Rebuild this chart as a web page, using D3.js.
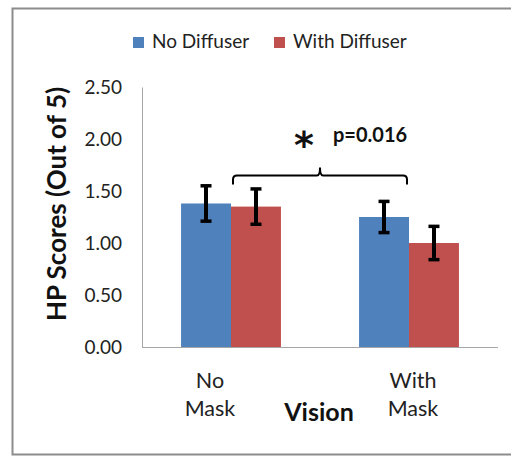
<!DOCTYPE html>
<html>
<head>
<meta charset="utf-8">
<script src="https://cdn.jsdelivr.net/npm/d3@7"></script>
<style>
  html, body { margin: 0; padding: 0; background: #fff; }
  svg { display: block; font-family: Lato, "Open Sans", sans-serif; }
</style>
</head>
<body>
<svg id="chart" width="511" height="456"></svg>
<script>
// Categories and series
const categories = ["No Mask", "With Mask"];
const categoryLines = [["No", "Mask"], ["With", "Mask"]];
const seriesNames = ["No Diffuser", "With Diffuser"];
const noDiffuser = [1.38, 1.25];
const withDiffuser = [1.35, 1.00];
const noDiffuserErr = [0.17, 0.15];
const withDiffuserErr = [0.17, 0.16];
const yTicks = [0, 0.5, 1.0, 1.5, 2.0, 2.5];
const pLabel = "p=0.016";

const colors = { "No Diffuser": "#4F81BD", "With Diffuser": "#C0504D" };

const svg = d3.select("#chart");

// Outer chart-area frame
svg.append("rect")
  .attr("x", 12.5).attr("y", 8.5)
  .attr("width", 510).attr("height", 446)
  .attr("fill", "#fff")
  .attr("stroke", "#8c8c8c").attr("stroke-width", 2);

const plot = { left: 142, right: 498, top: 87, bottom: 347 };

const x0 = d3.scaleBand().domain(categories)
  .range([plot.left, plot.right]).paddingInner(0.4388).paddingOuter(0.2194);
const x1 = d3.scaleBand().domain(seriesNames).range([0, x0.bandwidth()]);
const y = d3.scaleLinear().domain([0, 2.5]).range([plot.bottom, plot.top]);

const rows = categories.map((c, i) => ({
  category: c,
  values: [
    { series: "No Diffuser", value: noDiffuser[i], err: noDiffuserErr[i] },
    { series: "With Diffuser", value: withDiffuser[i], err: withDiffuserErr[i] }
  ]
}));

// Y axis
const yAxis = svg.append("g")
  .attr("transform", `translate(${plot.left},0)`)
  .call(d3.axisLeft(y).tickValues(yTicks).tickFormat(d3.format(".2f")).tickSize(0).tickPadding(20));
yAxis.select(".domain").attr("stroke", "#a6a6a6").attr("stroke-width", 1);
yAxis.selectAll("text").attr("font-size", 19).attr("fill", "#222")
  .attr("font-family", "Lato, sans-serif");

// Baseline (x axis line)
svg.append("line")
  .attr("x1", plot.left).attr("x2", plot.right)
  .attr("y1", y(0) + 0.5).attr("y2", y(0) + 0.5)
  .attr("stroke", "#a6a6a6").attr("stroke-width", 1);

// Bars
const groups = svg.selectAll("g.cat").data(rows).join("g")
  .attr("class", "cat")
  .attr("transform", d => `translate(${x0(d.category)},0)`);

groups.selectAll("rect").data(d => d.values).join("rect")
  .attr("x", d => x1(d.series))
  .attr("y", d => y(d.value))
  .attr("width", x1.bandwidth())
  .attr("height", d => y(0) - y(d.value))
  .attr("fill", d => colors[d.series]);

// Error bars
const eb = groups.selectAll("g.err").data(d => d.values).join("g")
  .attr("class", "err")
  .attr("transform", d => `translate(${x1(d.series) + x1.bandwidth() / 2},0)`);
eb.append("line")
  .attr("y1", d => y(d.value + d.err)).attr("y2", d => y(d.value - d.err))
  .attr("stroke", "#000").attr("stroke-width", 4);
eb.append("line")
  .attr("x1", -5.5).attr("x2", 5.5)
  .attr("y1", d => y(d.value + d.err)).attr("y2", d => y(d.value + d.err))
  .attr("stroke", "#000").attr("stroke-width", 3.5);
eb.append("line")
  .attr("x1", -5.5).attr("x2", 5.5)
  .attr("y1", d => y(d.value - d.err)).attr("y2", d => y(d.value - d.err))
  .attr("stroke", "#000").attr("stroke-width", 3.5);

// Category labels (two lines each)
const labelOffsets = [-21, 4];
categoryLines.forEach((lines, i) => {
  const cx = x0(categories[i]) + x0.bandwidth() / 2 + labelOffsets[i];
  const t = svg.append("text")
    .attr("x", cx).attr("y", 388)
    .attr("text-anchor", "middle")
    .attr("font-size", 21.5).attr("fill", "#222");
  lines.forEach((ln, j) => {
    t.append("tspan").attr("x", cx).attr("dy", j === 0 ? 0 : 28).text(ln);
  });
});

// X axis title
svg.append("text")
  .attr("x", 319).attr("y", 421)
  .attr("text-anchor", "middle")
  .attr("font-size", 25).attr("font-weight", "bold").attr("fill", "#111")
  .text("Vision");

// Y axis title
svg.append("text")
  .attr("transform", `translate(66,204) rotate(-90)`)
  .attr("text-anchor", "middle")
  .attr("font-size", 26).attr("font-weight", "bold").attr("fill", "#111")
  .text("HP Scores (Out of 5)");

// Significance bracket spanning the two mask conditions
const bx1 = x0(categories[0]) + x0.bandwidth() / 2 + 2;
const bx2 = x0(categories[1]) + x0.bandwidth() / 2 - 2;
const by = y(1.65);
const bmid = (bx1 + bx2) / 2;
const r = 4;
const bracket = d3.path();
bracket.moveTo(bx1, by + 9);
bracket.lineTo(bx1, by + r);
bracket.quadraticCurveTo(bx1, by, bx1 + r, by);
bracket.lineTo(bmid - 3, by);
bracket.quadraticCurveTo(bmid, by, bmid, by - 8);
bracket.quadraticCurveTo(bmid, by, bmid + 3, by);
bracket.lineTo(bx2 - r, by);
bracket.quadraticCurveTo(bx2, by, bx2, by + r);
bracket.lineTo(bx2, by + 9);
svg.append("path")
  .attr("d", bracket.toString())
  .attr("fill", "none").attr("stroke", "#000").attr("stroke-width", 2);

svg.append("text")
  .attr("x", 304).attr("y", 158)
  .attr("text-anchor", "middle")
  .attr("font-family", "DejaVu Sans, sans-serif")
  .attr("font-size", 38).attr("font-weight", "bold").attr("fill", "#111")
  .text("*");
svg.append("text")
  .attr("x", 333).attr("y", 142)
  .attr("font-size", 20).attr("font-weight", "bold").attr("fill", "#111")
  .text(pLabel);

// Legend
const legendX = [133, 274];
const legend = svg.selectAll("g.legend").data(seriesNames).join("g")
  .attr("class", "legend")
  .attr("transform", (d, i) => `translate(${legendX[i]},37)`);
legend.append("rect")
  .attr("width", 11).attr("height", 11)
  .attr("fill", d => colors[d]);
legend.append("text")
  .attr("x", 19).attr("y", 11)
  .attr("font-size", 19).attr("fill", "#222")
  .text(d => d);
</script>
</body>
</html>
